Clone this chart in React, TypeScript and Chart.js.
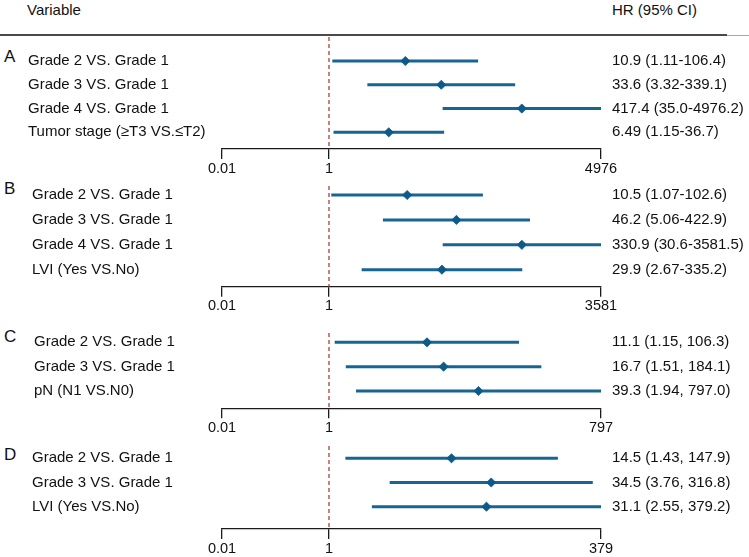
import React, { useEffect, useRef } from 'react';
import { Chart, Scale, registerables } from 'chart.js';

// ---------------- data ----------------
const letters = ['A', 'B', 'C', 'D'];

const labelsA = ['Grade 2 VS. Grade 1', 'Grade 3 VS. Grade 1', 'Grade 4 VS. Grade 1', 'Tumor stage (≥T3 VS.≤T2)'];
const hrA = [10.9, 33.6, 417.4, 6.49];
const lowA = [1.11, 3.32, 35.0, 1.15];
const highA = [106.4, 339.1, 4976.2, 36.7];
const textA = ['10.9 (1.11-106.4)', '33.6 (3.32-339.1)', '417.4 (35.0-4976.2)', '6.49 (1.15-36.7)'];
const ticksA = [0.01, 1, 4976];

const labelsB = ['Grade 2 VS. Grade 1', 'Grade 3 VS. Grade 1', 'Grade 4 VS. Grade 1', 'LVI (Yes VS.No)'];
const hrB = [10.5, 46.2, 330.9, 29.9];
const lowB = [1.07, 5.06, 30.6, 2.67];
const highB = [102.6, 422.9, 3581.5, 335.2];
const textB = ['10.5 (1.07-102.6)', '46.2 (5.06-422.9)', '330.9 (30.6-3581.5)', '29.9 (2.67-335.2)'];
const ticksB = [0.01, 1, 3581];

const labelsC = ['Grade 2 VS. Grade 1', 'Grade 3 VS. Grade 1', 'pN (N1 VS.N0)'];
const hrC = [11.1, 16.7, 39.3];
const lowC = [1.15, 1.51, 1.94];
const highC = [106.3, 184.1, 797.0];
const textC = ['11.1 (1.15, 106.3)', '16.7 (1.51, 184.1)', '39.3 (1.94, 797.0)'];
const ticksC = [0.01, 1, 797];

const labelsD = ['Grade 2 VS. Grade 1', 'Grade 3 VS. Grade 1', 'LVI (Yes VS.No)'];
const hrD = [14.5, 34.5, 31.1];
const lowD = [1.43, 3.76, 2.55];
const highD = [147.9, 316.8, 379.2];
const textD = ['14.5 (1.43, 147.9)', '34.5 (3.76, 316.8)', '31.1 (2.55, 379.2)'];
const ticksD = [0.01, 1, 379];

const headerLeft = 'Variable';
const headerRight = 'HR (95% CI)';

const panels = [
  { labels: labelsA, hr: hrA, low: lowA, high: highA, text: textA, ticks: ticksA },
  { labels: labelsB, hr: hrB, low: lowB, high: highB, text: textB, ticks: ticksB },
  { labels: labelsC, hr: hrC, low: lowC, high: highC, text: textC, ticks: ticksC },
  { labels: labelsD, hr: hrD, low: lowD, high: highD, text: textD, ticks: ticksD },
];

// ---------------- layout ----------------
const W = 749;
const H = 557;
const AREA_LEFT = 222;
const AREA_RIGHT = 601;
const PIVOT_FRACTION = (329 - 222) / (601 - 222);
const layoutCfg = [
  { top: 37, axis: 149, labelLeft: 28, letterY: 57, first: 61, last: 132.3 },
  { top: 186, axis: 286.7, labelLeft: 32, letterY: 189, first: 195, last: 269.7 },
  { top: 333, axis: 408.3, labelLeft: 34, letterY: 337, first: 342.3, last: 391 },
  { top: 446, axis: 529, labelLeft: 32, letterY: 455, first: 458.3, last: 506.7 },
];

const FONT = '"Liberation Sans", Arial, Helvetica, sans-serif';
const TEXT = '#111111';
const LINE_BLUE = '#176592';
const DIAMOND = '#0d5a8a';
const REF_RED = '#a8403f';

// Log scale with a pivot at 1: left part (min..1) and right part (1..max)
class PivotLogScale extends Scale {
  static id = 'pivotlog';
  static defaults = {};
  determineDataLimits() {
    const o: any = this.options;
    this.min = o.min;
    this.max = o.max;
  }
  buildTicks() {
    const o: any = this.options;
    return o.tickValues.map((v: number) => ({ value: v }));
  }
  getLabelForValue(v: number) {
    return String(v);
  }
  toDecimal(v: number) {
    const o: any = this.options;
    const f = o.pivotFraction;
    const lmin = Math.log10(this.min);
    const lmax = Math.log10(this.max);
    const lp = Math.log10(o.pivot);
    const lv = Math.log10(v);
    if (lv <= lp) return ((lv - lmin) / (lp - lmin)) * f;
    return f + ((lv - lp) / (lmax - lp)) * (1 - f);
  }
  getPixelForValue(v: number) {
    return this.getPixelForDecimal(this.toDecimal(v));
  }
  getValueForPixel(p: number) {
    const o: any = this.options;
    const f = o.pivotFraction;
    const d = this.getDecimalForPixel(p);
    const lmin = Math.log10(this.min);
    const lmax = Math.log10(this.max);
    const lp = Math.log10(o.pivot);
    const lv = d <= f ? lmin + (d / f) * (lp - lmin) : lp + ((d - f) / (1 - f)) * (lmax - lp);
    return Math.pow(10, lv);
  }
}

Chart.register(...registerables, PivotLogScale);

function PanelChart({ idx }: { idx: number }) {
  const ref = useRef<HTMLCanvasElement | null>(null);
  useEffect(() => {
    const p = panels[idx];
    const c = layoutCfg[idx];
    const n = p.labels.length;
    const s = (c.last - c.first) / (n - 1);
    const yMin = -(c.first - c.top) / s;
    const yMax = n - 1 + (c.axis - c.last) / s;
    const rows = p.labels.map((_, i) => i);
    const xHeight = Math.min(32, H - c.axis);
    const padBottom = H - c.axis - xHeight;

    const datasets: any[] = [];
    datasets.push({
      data: p.hr.map((v, i) => ({ x: v, y: i })),
      showLine: false,
      pointStyle: 'rectRot',
      pointRadius: 4.6,
      pointBorderWidth: 0.8,
      pointBackgroundColor: DIAMOND,
      pointBorderColor: DIAMOND,
      clip: false,
    });
    p.low.forEach((lo, i) => {
      datasets.push({
        data: [
          { x: lo, y: i },
          { x: p.high[i], y: i },
        ],
        borderColor: LINE_BLUE,
        borderWidth: 3,
        borderCapStyle: 'butt',
        pointRadius: 0,
        showLine: true,
        clip: false,
      });
    });
    datasets.push({
      data: [
        { x: 1, y: yMin },
        { x: 1, y: yMax },
      ],
      borderColor: REF_RED,
      borderWidth: 1.3,
      borderDash: [4, 3],
      pointRadius: 0,
      showLine: true,
      clip: false,
    });

    const chart = new Chart(ref.current as HTMLCanvasElement, {
      type: 'line',
      data: { datasets },
      options: {
        responsive: false,
        animation: false,
        events: [],
        layout: {
          padding: { top: c.top, bottom: padBottom, left: c.labelLeft, right: 0 },
        },
        plugins: { legend: { display: false }, tooltip: { enabled: false }, title: { display: false } },
        scales: {
          x: {
            type: 'pivotlog' as any,
            position: 'bottom',
            min: 0.01,
            max: p.ticks[p.ticks.length - 1],
            pivot: 1,
            pivotFraction: PIVOT_FRACTION,
            tickValues: p.ticks,
            afterFit: (sc: any) => {
              sc.height = xHeight;
            },
            grid: { drawOnChartArea: false, drawTicks: true, tickLength: 10, color: '#1a1a1a', lineWidth: 1.3 },
            border: { display: true, color: '#1a1a1a', width: 1.3 },
            ticks: {
              font: { family: FONT, size: 14.5 },
              color: TEXT,
              padding: 1,
              autoSkip: false,
              maxRotation: 0,
              callback: (v: any) => String(v),
            },
          } as any,
          y: {
            type: 'linear',
            position: 'left',
            reverse: true,
            min: yMin,
            max: yMax,
            bounds: 'data',
            afterBuildTicks: (sc: any) => {
              sc.ticks = rows.map((i) => ({ value: i }));
            },
            afterFit: (sc: any) => {
              sc.width = AREA_LEFT - c.labelLeft;
            },
            grid: { display: false, drawTicks: false },
            border: { display: false },
            ticks: {
              crossAlign: 'far',
              padding: 0,
              autoSkip: false,
              font: { family: FONT, size: 15 },
              color: TEXT,
              callback: (v: any) => p.labels[v] ?? '',
            },
          },
          yR: {
            type: 'linear',
            position: 'right',
            reverse: true,
            min: yMin,
            max: yMax,
            bounds: 'data',
            afterBuildTicks: (sc: any) => {
              sc.ticks = rows.map((i) => ({ value: i }));
            },
            afterFit: (sc: any) => {
              sc.width = W - AREA_RIGHT;
            },
            grid: { display: false, drawTicks: false },
            border: { display: false },
            ticks: {
              crossAlign: 'near',
              padding: 11,
              autoSkip: false,
              font: { family: FONT, size: 15 },
              color: TEXT,
              callback: (v: any) => p.text[v] ?? '',
            },
          },
        },
      } as any,
    });
    return () => chart.destroy();
  }, [idx]);
  return (
    <canvas
      ref={ref}
      width={W}
      height={H}
      style={{ position: 'absolute', left: 0, top: 0, width: W, height: H, display: 'block' }}
    />
  );
}

export default function App() {
  return (
    <div
      style={{
        position: 'absolute',
        left: 0,
        top: 0,
        width: W,
        height: H,
        background: '#ffffff',
        overflow: 'hidden',
        fontFamily: FONT,
        color: TEXT,
      }}
    >
      <div style={{ position: 'absolute', left: 27, top: 1, fontSize: 15, lineHeight: '18px', whiteSpace: 'nowrap' }}>
        {headerLeft}
      </div>
      <div style={{ position: 'absolute', left: 612, top: 1, fontSize: 15, lineHeight: '18px', whiteSpace: 'nowrap' }}>
        {headerRight}
      </div>
      <div style={{ position: 'absolute', left: 0, top: 34.4, width: 727, height: 1.3, background: '#4a4a4a' }} />
      <div style={{ position: 'absolute', left: 727, top: 34.8, width: 22, height: 1.3, background: '#a6a6a6' }} />
      {letters.map((l, i) => (
        <div
          key={l}
          style={{
            position: 'absolute',
            left: 4,
            top: layoutCfg[i].letterY - 10,
            fontSize: 17,
            lineHeight: '20px',
            whiteSpace: 'nowrap',
          }}
        >
          {l}
        </div>
      ))}
      {panels.map((_, i) => (
        <PanelChart key={i} idx={i} />
      ))}
    </div>
  );
}
